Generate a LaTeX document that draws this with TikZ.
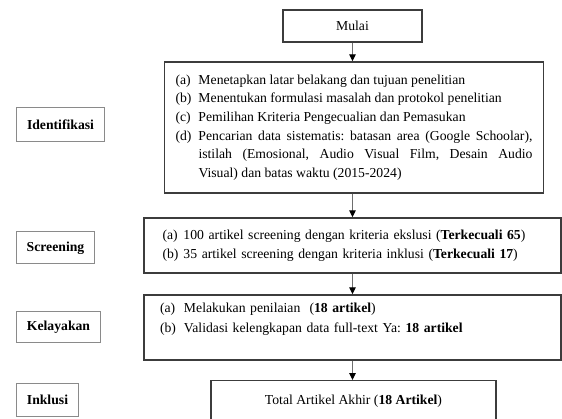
\documentclass[tikz,border=0pt]{standalone}
\usepackage{fontspec}
\setmainfont{Liberation Serif}
\usetikzlibrary{arrows.meta}
\frenchspacing
\newcommand{\litem}[3]{\hangindent=#1\hangafter=1\noindent\makebox[#1][l]{#2}#3\par}
\definecolor{boxline}{HTML}{3C3C3C}
\definecolor{lblline}{HTML}{8A8A8A}
\definecolor{arrline}{HTML}{6E6E6E}
\tikzset{
  mainbox/.style={draw=boxline, line width=1.4pt, inner sep=0pt, font=\fontsize{13.7}{18.6}\selectfont},
  lblbox/.style={draw=lblline, line width=1pt, inner sep=0pt, anchor=west, font=\fontsize{13.7}{16}\selectfont\bfseries},
  flow/.style={draw=arrline, line width=1pt, -{Triangle[length=7pt,width=6.5pt,color=black]}}
}
\begin{document}
\begin{tikzpicture}[x=1pt,y=-1pt]
\useasboundingbox (0,0) rectangle (562,419);
\clip (0,0) rectangle (562,419);
\fill[white] (0,0) rectangle (562,419);

\node[mainbox, minimum width=139pt, minimum height=32pt] (mulai) at (352.5,26) {Mulai};

\node[mainbox, minimum width=379pt, minimum height=131pt, text width=357pt, align=justify] (ident) at (354,127.5) {%
\litem{23pt}{(a)}{Menetapkan latar belakang dan tujuan penelitian}%
\litem{23pt}{(b)}{Menentukan formulasi masalah dan protokol penelitian}%
\litem{23pt}{(c)}{Pemilihan Kriteria Pengecualian dan Pemasukan}%
\litem{23pt}{(d)}{Pencarian data sistematis: batasan area (Google Schoolar),\linebreak istilah (Emosional, Audio Visual Film, Desain Audio\linebreak Visual) dan batas waktu (2015-2024)}};

\node[mainbox, minimum width=417pt, minimum height=55pt, text width=380pt, align=left] (scr) at (352.5,245.5) {%
\litem{21pt}{(a)}{100 artikel screening dengan kriteria ekslusi (\textbf{Terkecuali 65})}%
\litem{21pt}{(b)}{35 artikel screening dengan kriteria inklusi (\textbf{Terkecuali 17})}};

\node[mainbox, minimum width=417pt, minimum height=65pt, text width=385pt, align=left, font=\fontsize{13.7}{20}\selectfont] (kel) at (352.5,327.5) {%
\litem{24pt}{(a)}{Melakukan penilaian\ \ (\textbf{18 artikel})}%
\litem{24pt}{(b)}{Validasi kelengkapan data full-text Ya: \textbf{18 artikel}\rule[-20pt]{0pt}{1pt}}};

\node[mainbox, minimum width=285pt, minimum height=41pt, anchor=north] (total) at (353.5,380) {Total Artikel Akhir (\textbf{18 Artikel})};

\node[lblbox, minimum width=88pt, minimum height=34pt] (lident) at (16,125) {Identifikasi};
\node[lblbox, minimum width=78pt, minimum height=32pt] (lscr) at (16,248) {Screening};
\node[lblbox, minimum width=84pt, minimum height=31pt] (lkel) at (16,327.5) {Kelayakan};
\node[lblbox, minimum width=62pt, minimum height=33pt] (linkl) at (16,399.5) {Inklusi};

\draw[flow] (mulai.south) -- (mulai.south |- ident.north);
\draw[flow] (mulai.south |- ident.south) -- (mulai.south |- scr.north);
\draw[flow] (mulai.south |- scr.south) -- (mulai.south |- kel.north);
\draw[flow] (mulai.south |- kel.south) -- (mulai.south |- total.north);
\end{tikzpicture}
\end{document}
